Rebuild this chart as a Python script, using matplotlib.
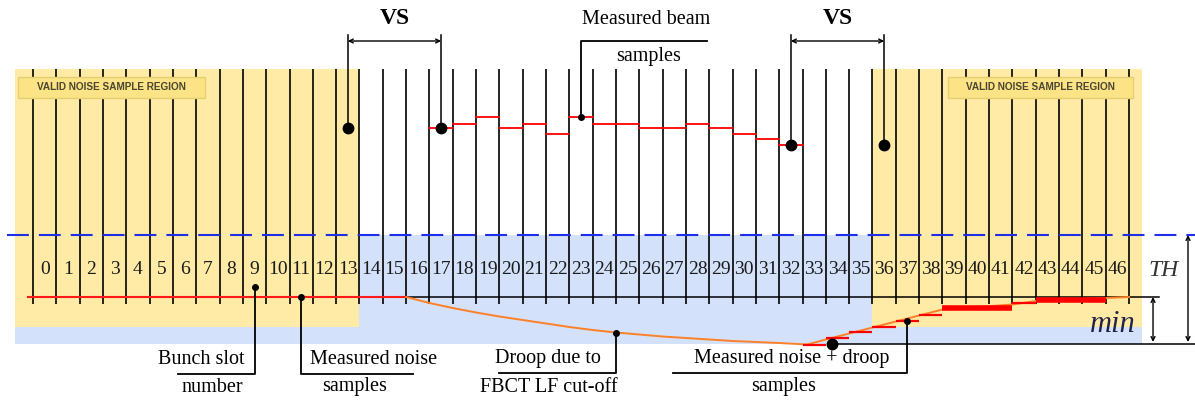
import matplotlib
matplotlib.use('Agg')
import matplotlib.pyplot as plt
from matplotlib.patches import Rectangle

# bunch slot numbers shown along the baseline
slots = list(range(47))

# measured beam samples, level above the noise baseline
beam_slots = list(range(17, 33))
beam_levels = [169, 173, 180, 169, 173, 163, 180, 173, 173, 169, 169, 173, 169, 163, 158, 152]

# droop of the baseline (FBCT LF cut-off)
droop_x = [16, 17, 18, 19, 20, 21, 22, 23, 24, 25, 26, 27, 28, 29, 30, 31, 32, 33.2]
droop_y = [0, -6, -11, -15.5, -19.5, -23, -26.5, -30, -33, -35.5, -37.5, -39.5, -41, -42.5, -44, -45, -46, -47.5]

# baseline recovery after the beam
recov_x = [33.2, 34, 35, 36, 37, 38, 39, 42, 43, 46, 47]
recov_y = [-47.5, -42.5, -36.5, -30.5, -24.5, -18.5, -12.5, -7.5, -4, -1, 0]

# measured noise + droop samples
nd_slots = list(range(33, 46))
nd_levels = [-48, -41, -35, -29.5, -23.5, -17.5, -10.5, -10.5, -10.5, -5.7, -2.5, -2.5, -2.5]
thick_slots = [39, 40, 41, 43, 44, 45]

noise_level = 0
th_level = 62
min_level = -47

serif = 'Liberation Serif'

fig = plt.figure(figsize=(11.95, 4.01), dpi=100)
ax = fig.add_axes([0, 0, 1, 1])
ax.set_xlim(-1.415, 49.83)
ax.set_ylim(-104, 297)
ax.axis('off')

# background regions
ax.add_patch(Rectangle((-0.77, min_level), 48.31, th_level - min_level, fc='#d3e2fa', ec='none', zorder=1))
ax.add_patch(Rectangle((-0.77, -30), 14.77, 258, fc='#ffeba5', ec='none', zorder=2))
ax.add_patch(Rectangle((36, -30), 11.54, 258, fc='#ffeba5', ec='none', zorder=2))

# threshold
ax.plot([-1.11, 49.83], [th_level, th_level], color='#1f2ee8', lw=1.5,
        ls=(0, (10.5, 4.8)), zorder=5)

# slot boundaries
ax.vlines(range(48), -7, 228, color='black', lw=1.2, zorder=4)
for s in slots:
    ax.text(s + 0.5, 27, str(s), ha='center', va='center', fontsize=14,
            family=serif, color='#1a1a1a', zorder=6)

# baseline, noise samples and droop
ax.plot([-0.2, 48.3], [noise_level, noise_level], color='black', lw=1.1, zorder=5)
ax.plot([-0.2, 16], [noise_level, noise_level], color='#ff1a1a', lw=1.5, zorder=6)
ax.plot(droop_x, droop_y, color='#ff7f27', lw=1.4, zorder=6)
ax.plot(recov_x, recov_y, color='#ff7f27', lw=1.4, zorder=6)
for s, v in zip(nd_slots, nd_levels):
    ax.plot([s, s + 1], [v, v], color='#ff0000', lw=4 if s in thick_slots else 1.6,
            solid_capstyle='butt', zorder=7)

# beam samples
for s, v in zip(beam_slots, beam_levels):
    ax.plot([s, s + 1], [v, v], color='#ff0000', lw=1.3, zorder=6)

# VS brackets
vs_pairs = [(13.5, 17.5, beam_levels[0]), (32.5, 36.5, beam_levels[-1])]
for xa, xb, lev in vs_pairs:
    ax.plot([xa, xa], [262, lev], color='black', lw=1.1, zorder=8)
    ax.plot([xb, xb], [262, lev], color='black', lw=1.1, zorder=8)
    ax.plot([xa, xb], [lev, lev], 'o', color='black', ms=7.5, zorder=9)
    ax.annotate('', xy=(xa, 256), xytext=(xb, 256),
                arrowprops=dict(arrowstyle='<->', lw=1.0, color='black',
                                shrinkA=0, shrinkB=0, mutation_scale=7), zorder=8)
    ax.text((xa + xb) / 2, 279, 'VS', ha='center', va='center', fontsize=17,
            family=serif, weight='bold')

# valid noise sample boxes
for x0, x1 in [(-0.64, 7.38), (39.24, 47.17)]:
    ax.add_patch(Rectangle((x0, 199), x1 - x0, 21, fc='#fbe386', ec='#e5cf72', lw=1, zorder=8))
    ax.text((x0 + x1) / 2, 209.5, 'VALID NOISE SAMPLE REGION', ha='center', va='center',
            fontsize=7.2, weight='bold', family='Liberation Sans', color='#4a4630', zorder=9)

# TH / min dimension arrows
ax.plot([34.25, 49.83], [min_level, min_level], color='black', lw=1.1, zorder=6)
ax.plot(34.25, min_level, 'o', color='black', ms=7.5, zorder=9)
for xa, top in [(49.53, th_level), (48.03, noise_level)]:
    ax.annotate('', xy=(xa, top), xytext=(xa, min_level + 2),
                arrowprops=dict(arrowstyle='<->', lw=1.0, color='black',
                                shrinkA=0, shrinkB=0, mutation_scale=7))
ax.text(48.5, 26, 'TH', ha='center', va='center', fontsize=17, family=serif,
        style='italic', color='#333333')
ax.text(46.3, -28, 'min', ha='center', va='center', fontsize=22, family=serif,
        style='italic', color='#22224a', zorder=9)

# callouts
callouts = [
    ('Measured beam', 'samples', (26.3, 277), (26.4, 241),
     [(23.5, beam_levels[6]), (23.5, 256), (28.9, 256)]),
    ('Bunch slot', 'number', (7.2, -63), (7.7, -90),
     [(9.5, 10), (9.5, -77), (6.2, -77)]),
    ('Measured noise', 'samples', (14.6, -63), (13.8, -90),
     [(11.5, noise_level), (11.5, -77), (16.3, -77)]),
    ('Droop due to', 'FBCT LF cut-off', (22.1, -62), (22.1, -90),
     [(25, droop_y[9]), (25, -76), (20.0, -76)]),
    ('Measured noise + droop', 'samples', (32.55, -62), (32.2, -90),
     [(37.5, nd_levels[4]), (37.5, -76), (27.45, -76)]),
]
for t1, t2, p1, p2, path in callouts:
    ax.text(p1[0], p1[1], t1, ha='center', va='center', fontsize=14.5, family=serif)
    ax.text(p2[0], p2[1], t2, ha='center', va='center', fontsize=14.5, family=serif)
    xs, ys = zip(*path)
    ax.plot(xs, ys, color='black', lw=1.3, zorder=9)
    ax.plot(xs[0], ys[0], 'o', color='black', ms=4, zorder=9)

fig.savefig('out.png', dpi=100)
